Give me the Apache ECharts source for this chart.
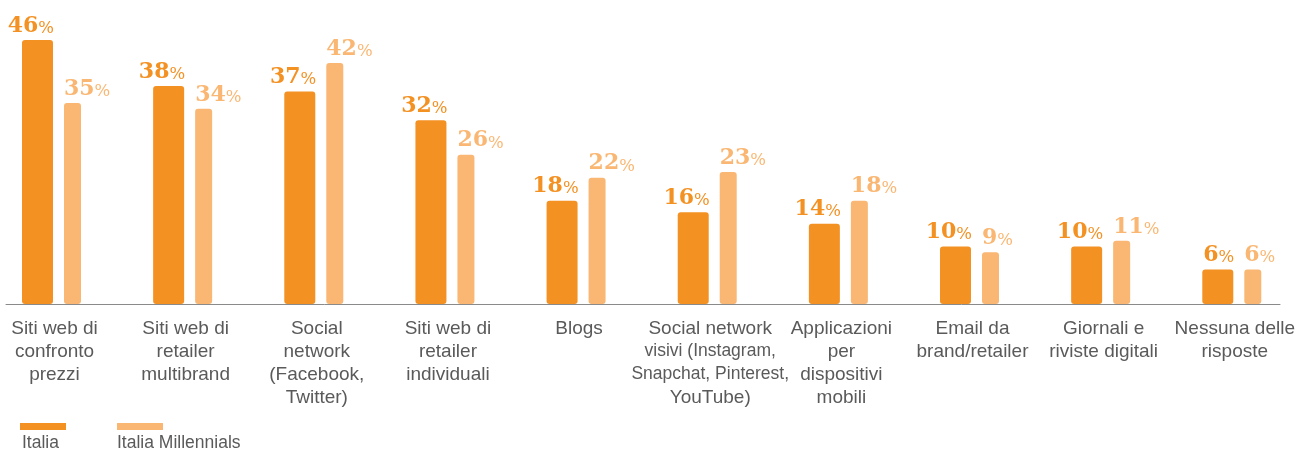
<!DOCTYPE html>
<html>
<head>
<meta charset="utf-8">
<script src="https://cdn.jsdelivr.net/npm/echarts@6/dist/echarts.min.js"></script>
<style>
  html, body { margin: 0; padding: 0; background: #ffffff; }
  #chart { width: 1298px; height: 452px; }
</style>
</head>
<body>
<div id="chart"></div>
<script>
// Categories (line breaks follow the printed wrapping)
const categories = [
  'Siti web di\nconfronto\nprezzi',
  'Siti web di\nretailer\nmultibrand',
  'Social\nnetwork\n(Facebook,\nTwitter)',
  'Siti web di\nretailer\nindividuali',
  'Blogs',
  'Social network\nvisivi (Instagram,\nSnapchat, Pinterest,\nYouTube)',
  'Applicazioni\nper\ndispositivi\nmobili',
  'Email da\nbrand/retailer',
  'Giornali e\nriviste digitali',
  'Nessuna delle\nrisposte'
];

// Share of respondents (%)
const italia      = [46, 38, 37, 32, 18, 16, 14, 10, 10, 6];
const millennials = [35, 34, 42, 26, 22, 23, 18,  9, 11, 6];

const seriesNames = ['Italia', 'Italia Millennials'];

const COLOR_ITALIA = '#F39123';
const COLOR_MILL   = '#FAB773';
const TEXT_GREY    = '#5a5a5a';
const AXIS_GREY    = '#8a8a8a';

const chart = echarts.init(document.getElementById('chart'), null, { renderer: 'canvas' });

function valueLabel(color, pos, align) {
  return {
    show: true,
    position: pos,
    align: align,
    verticalAlign: 'bottom',
    offset: [align === 'right' ? 1 : 0, -3],
    formatter: p => `{n|${p.value}}{p|%}`,
    rich: {
      n: { fontFamily: 'DejaVu Serif', fontWeight: 'bold', fontSize: 22, lineHeight: 26, color: color, verticalAlign: 'bottom' },
      p: { fontFamily: 'DejaVu Serif', fontWeight: 'normal', fontSize: 16.5, lineHeight: 21, color: color, verticalAlign: 'bottom' }
    }
  };
}

// long lines are set a little tighter so neighbouring labels don't collide
function categoryLabel(value) {
  return value.split('\n')
    .map(line => (line.length > 17 ? `{w|${line}}` : `{a|${line}}`))
    .join('\n');
}

const labelFont = { fontFamily: 'Liberation Sans', lineHeight: 23, color: TEXT_GREY };

const option = {
  backgroundColor: '#ffffff',
  animation: false,
  grid: [
    // bars: category ticks sit on the group centres
    { left: 51.5, right: 64.8, top: 17, bottom: 148, containLabel: false },
    // baseline rule
    { left: 6, right: 18, top: 17, bottom: 148, containLabel: false }
  ],
  xAxis: [
    {
      type: 'category',
      gridIndex: 0,
      data: categories,
      boundaryGap: false,
      axisLine: { show: false },
      axisTick: { show: false },
      axisLabel: {
        interval: 0,
        margin: 13,
        align: 'center',
        padding: [0, 0, 0, 6],
        fontFamily: 'Liberation Sans',
        fontSize: 19,
        lineHeight: 23,
        color: TEXT_GREY,
        formatter: categoryLabel,
        rich: {
          a: Object.assign({ fontSize: 19 }, labelFont),
          w: Object.assign({ fontSize: 17.5 }, labelFont)
        }
      }
    },
    {
      type: 'value',
      gridIndex: 1,
      min: 0,
      max: 1,
      axisLine: { show: true, lineStyle: { color: AXIS_GREY, width: 1 } },
      axisTick: { show: false },
      axisLabel: { show: false },
      splitLine: { show: false }
    }
  ],
  yAxis: [
    { type: 'value', gridIndex: 0, min: 0, max: 50, show: false },
    { type: 'value', gridIndex: 1, min: 0, max: 1, show: false }
  ],
  series: [
    {
      name: seriesNames[0],
      type: 'bar',
      xAxisIndex: 0,
      yAxisIndex: 0,
      data: italia,
      barWidth: 31,
      barGap: '35.48%',
      itemStyle: { color: COLOR_ITALIA, borderRadius: 3 },
      label: valueLabel(COLOR_ITALIA, ['100%', 0], 'right')
    },
    {
      name: seriesNames[1],
      type: 'bar',
      xAxisIndex: 0,
      yAxisIndex: 0,
      data: millennials,
      barWidth: 17,
      barGap: '35.48%',
      itemStyle: { color: COLOR_MILL, borderRadius: 3 },
      label: valueLabel(COLOR_MILL, [0, 0], 'left')
    }
  ],
  graphic: [
    { type: 'rect', left: 20, top: 423, shape: { width: 46, height: 7 }, style: { fill: COLOR_ITALIA } },
    { type: 'text', left: 22, top: 434, style: { text: seriesNames[0], fill: TEXT_GREY, font: '17.5px "Liberation Sans"' } },
    { type: 'rect', left: 117, top: 423, shape: { width: 46, height: 7 }, style: { fill: COLOR_MILL } },
    { type: 'text', left: 117, top: 434, style: { text: seriesNames[1], fill: TEXT_GREY, font: '17.5px "Liberation Sans"' } }
  ]
};

chart.setOption(option);
</script>
</body>
</html>
